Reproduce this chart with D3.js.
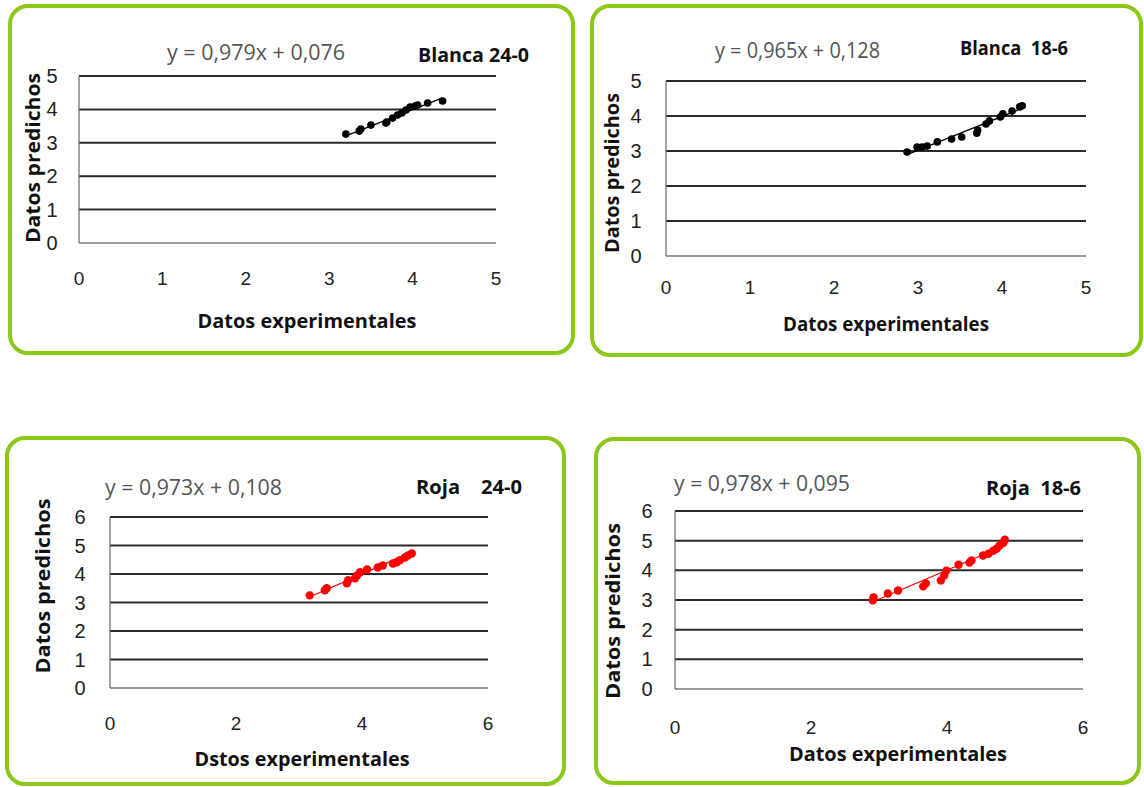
<!DOCTYPE html>
<html>
<head>
<meta charset="utf-8">
<script src="https://cdn.jsdelivr.net/npm/d3@7"></script>
<style>
  body { margin: 0; background: #fff; }
  svg { display: block; }
  text { font-family: "Open Sans", "Liberation Sans", sans-serif; }
</style>
</head>
<body>
<svg id="chart" width="1144" height="787"></svg>
<script>
// Data
var blanca240X = [3.20, 3.36, 3.38, 3.50, 3.68, 3.69, 3.76, 3.82, 3.87, 3.92, 3.97, 4.03, 4.06, 4.18, 4.36];
var blanca240Y = [3.26, 3.35, 3.41, 3.53, 3.59, 3.62, 3.74, 3.83, 3.89, 3.98, 4.07, 4.10, 4.13, 4.19, 4.25];
var blanca186X = [2.87, 2.99, 3.05, 3.11, 3.23, 3.40, 3.52, 3.70, 3.71, 3.81, 3.85, 3.98, 4.01, 4.12, 4.21, 4.24];
var blanca186Y = [2.97, 3.11, 3.11, 3.14, 3.26, 3.34, 3.40, 3.51, 3.60, 3.77, 3.86, 3.97, 4.06, 4.14, 4.26, 4.29];
var roja240X = [3.17, 3.41, 3.44, 3.76, 3.78, 3.89, 3.92, 3.97, 4.08, 4.25, 4.33, 4.49, 4.55, 4.60, 4.68, 4.73, 4.79];
var roja240Y = [3.25, 3.43, 3.50, 3.67, 3.78, 3.85, 3.95, 4.06, 4.16, 4.23, 4.30, 4.37, 4.41, 4.48, 4.58, 4.65, 4.72];
var roja186X = [2.91, 2.92, 3.13, 3.28, 3.65, 3.69, 3.91, 3.96, 3.99, 4.17, 4.33, 4.36, 4.53, 4.61, 4.68, 4.73, 4.77, 4.83, 4.85];
var roja186Y = [2.99, 3.09, 3.22, 3.32, 3.46, 3.56, 3.66, 3.83, 3.99, 4.19, 4.26, 4.33, 4.50, 4.56, 4.66, 4.73, 4.83, 4.93, 5.03];

// Trend lines
var slopes = [0.979, 0.965, 0.973, 0.978];
var intercepts = [0.076, 0.128, 0.108, 0.095];
var equations = ["y = 0,979x + 0,076", "y = 0,965x + 0,128", "y = 0,973x + 0,108", "y = 0,978x + 0,095"];

// Labels
var titles = ["Blanca 24-0", "Blanca  18-6", "Roja    24-0", "Roja  18-6"];
var xTitles = ["Datos experimentales", "Datos experimentales", "Dstos experimentales", "Datos experimentales"];
var yTitle = "Datos predichos";
var ticks05 = [0, 1, 2, 3, 4, 5];
var ticks06 = [0, 1, 2, 3, 4, 5, 6];
var ticksEven = [0, 2, 4, 6];

var svg = d3.select("#chart");
var green = "#8cc81a";

// layout of each panel (pixels)
var panels = [
  { xs: blanca240X, ys: blanca240Y, color: "#000", r: 3.8, xMax: 5, yMax: 5, xTicks: ticks05, yTicks: ticks05,
    box: [10, 6, 563, 347], plot: [79, 496, 243, 76], yTickX: 52, xTickY: 278,
    eq: [167, 345, 52], title: [418, 529, 55], yLab: [32, 158, 170], xLab: [307, 320, 219] },
  { xs: blanca186X, ys: blanca186Y, color: "#000", r: 3.8, xMax: 5, yMax: 5, xTicks: ticks05, yTicks: ticks05,
    box: [592, 6, 549, 349], plot: [666, 1086, 256, 81], yTickX: 636, xTickY: 287,
    eq: [715, 880, 50], title: [960, 1068, 48], yLab: [611, 173, 160], xLab: [886, 323, 206] },
  { xs: roja240X, ys: roja240Y, color: "#f00", r: 4.2, xMax: 6, yMax: 6, xTicks: ticksEven, yTicks: ticks06,
    box: [7, 438, 557, 346], plot: [110, 488, 688, 517], yTickX: 80, xTickY: 723,
    eq: [105, 282, 487], title: [416, 522, 487], yLab: [42, 586, 175], xLab: [302, 758, 215] },
  { xs: roja186X, ys: roja186Y, color: "#f00", r: 4.2, xMax: 6, yMax: 6, xTicks: ticksEven, yTicks: ticks06,
    box: [596, 439, 543, 344], plot: [675, 1083, 689, 511], yTickX: 647, xTickY: 727,
    eq: [674, 850, 483], title: [986, 1081, 488], yLab: [612, 611, 176], xLab: [898, 753, 218] }
];

panels.forEach(function(p, i) {
  var g = svg.append("g");

  // green rounded frame
  g.append("rect")
    .attr("x", p.box[0]).attr("y", p.box[1])
    .attr("width", p.box[2]).attr("height", p.box[3])
    .attr("rx", 18).attr("ry", 18)
    .attr("fill", "#fff")
    .attr("stroke", green)
    .attr("stroke-width", 4);

  var x = d3.scaleLinear().domain([0, p.xMax]).range([p.plot[0], p.plot[1]]);
  var y = d3.scaleLinear().domain([0, p.yMax]).range([p.plot[2], p.plot[3]]);

  // horizontal gridlines
  g.selectAll(".grid")
    .data(p.yTicks.filter(function(t) { return t > 0; }))
    .enter().append("line")
    .attr("x1", x(0)).attr("x2", x(p.xMax))
    .attr("y1", function(d) { return y(d); })
    .attr("y2", function(d) { return y(d); })
    .attr("stroke", "#2a2a2a")
    .attr("stroke-width", 2);

  // axes lines
  g.append("line")
    .attr("x1", x(0)).attr("x2", x(p.xMax))
    .attr("y1", y(0)).attr("y2", y(0))
    .attr("stroke", "#9a9a9a").attr("stroke-width", 2);
  g.append("line")
    .attr("x1", x(0)).attr("x2", x(0))
    .attr("y1", y(0)).attr("y2", y(p.yMax))
    .attr("stroke", "#6a6a6a").attr("stroke-width", 1.2);

  // tick labels
  g.selectAll(".ytick")
    .data(p.yTicks)
    .enter().append("text")
    .attr("x", p.yTickX)
    .attr("y", function(d) { return y(d); })
    .attr("text-anchor", "middle")
    .attr("dominant-baseline", "central")
    .style("font-family", "'Liberation Sans', Arial, sans-serif")
    .style("font-size", "20px")
    .attr("fill", "#222")
    .text(function(d) { return d; });

  g.selectAll(".xtick")
    .data(p.xTicks)
    .enter().append("text")
    .attr("x", function(d) { return x(d); })
    .attr("y", p.xTickY)
    .attr("text-anchor", "middle")
    .attr("dominant-baseline", "central")
    .style("font-family", "'Liberation Sans', Arial, sans-serif")
    .style("font-size", "19px")
    .attr("fill", "#222")
    .text(function(d) { return d; });

  // trend line
  var x0 = d3.min(p.xs), x1 = d3.max(p.xs);
  g.append("line")
    .attr("x1", x(x0)).attr("x2", x(x1))
    .attr("y1", y(slopes[i] * x0 + intercepts[i]))
    .attr("y2", y(slopes[i] * x1 + intercepts[i]))
    .attr("stroke", p.color)
    .attr("stroke-width", 1.2);

  // points
  g.selectAll(".pt")
    .data(p.xs)
    .enter().append("circle")
    .attr("cx", function(d) { return x(d); })
    .attr("cy", function(d, j) { return y(p.ys[j]); })
    .attr("r", p.r)
    .attr("fill", p.color);

  // equation
  g.append("text")
    .attr("x", p.eq[0]).attr("y", p.eq[2])
    .attr("dominant-baseline", "central")
    .attr("textLength", p.eq[1] - p.eq[0])
    .attr("lengthAdjust", "spacingAndGlyphs")
    .style("font-size", "21px")
    .attr("fill", "#555")
    .text(equations[i]);

  // panel title
  g.append("text")
    .attr("x", p.title[0]).attr("y", p.title[2])
    .attr("dominant-baseline", "central")
    .attr("textLength", p.title[1] - p.title[0])
    .attr("lengthAdjust", "spacingAndGlyphs")
    .style("font-size", "19px")
    .style("font-weight", "bold")
    .style("white-space", "pre")
    .attr("fill", "#111")
    .text(titles[i]);

  // axis titles
  g.append("text")
    .attr("transform", "translate(" + p.yLab[0] + "," + p.yLab[1] + ") rotate(-90)")
    .attr("text-anchor", "middle")
    .attr("dominant-baseline", "central")
    .attr("textLength", p.yLab[2])
    .attr("lengthAdjust", "spacingAndGlyphs")
    .style("font-size", "20px")
    .style("font-weight", "bold")
    .attr("fill", "#111")
    .text(yTitle);

  g.append("text")
    .attr("x", p.xLab[0]).attr("y", p.xLab[1])
    .attr("text-anchor", "middle")
    .attr("dominant-baseline", "central")
    .attr("textLength", p.xLab[2])
    .attr("lengthAdjust", "spacingAndGlyphs")
    .style("font-size", "20px")
    .style("font-weight", "bold")
    .attr("fill", "#111")
    .text(xTitles[i]);
});
</script>
</body>
</html>
